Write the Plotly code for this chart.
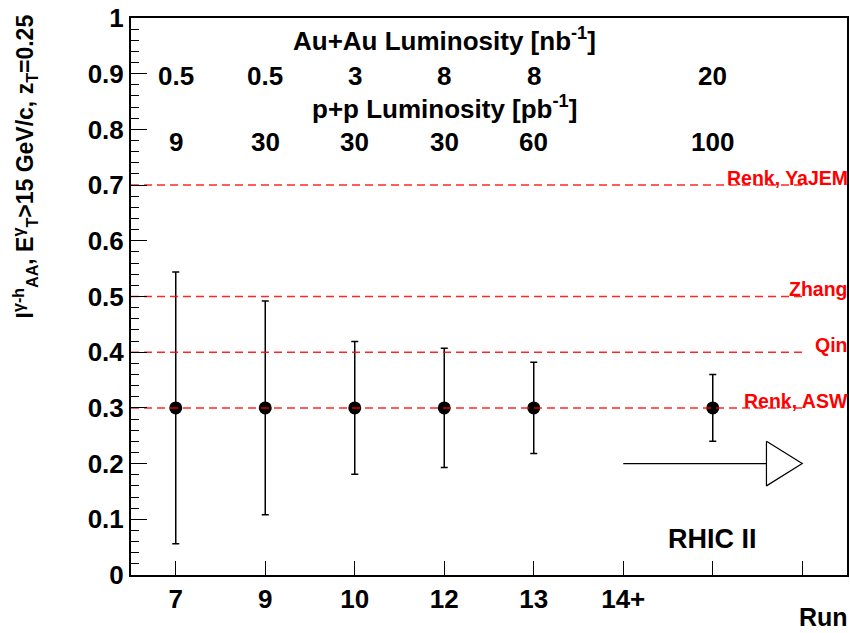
import plotly.graph_objects as go

# ---- data ----
run_labels = ["7", "9", "10", "12", "13", "14+", "", ""]
bin_pos = [1, 2, 3, 4, 5, 6, 7, 8]
point_bins = [1, 2, 3, 4, 5, 7]
iaa_values = [0.3, 0.3, 0.3, 0.3, 0.3, 0.3]
iaa_errors = [0.244, 0.192, 0.119, 0.107, 0.082, 0.060]

auau_lumi = ["0.5", "0.5", "3", "8", "8", "20"]
pp_lumi = ["9", "30", "30", "30", "60", "100"]

theory_names = ["Renk, YaJEM", "Zhang", "Qin", "Renk, ASW"]
theory_values = [0.7, 0.5, 0.4, 0.3]

arrow_from_bin = 6
arrow_head_bin = 7.6
arrow_to_bin = 8
arrow_level = 0.2
arrow_half_height = 0.04

FONT = "Liberation Sans"

fig = go.Figure()

fig.add_trace(go.Scatter(
    x=point_bins, y=iaa_values, mode="markers",
    marker=dict(color="black", size=13, symbol="circle"),
    error_y=dict(type="data", array=iaa_errors, color="black", thickness=1.5, width=3.5),
    showlegend=False, hoverinfo="skip"))

for v in theory_values:
    fig.add_trace(go.Scatter(
        x=[0.5, 8], y=[v, v], mode="lines",
        line=dict(color="rgba(255,0,0,0.85)", width=1.5, dash="8px,5px"),
        showlegend=False, hoverinfo="skip"))

# arrow
fig.add_trace(go.Scatter(
    x=[arrow_from_bin, arrow_head_bin], y=[arrow_level, arrow_level], mode="lines",
    line=dict(color="black", width=1.2), showlegend=False, hoverinfo="skip"))
fig.add_trace(go.Scatter(
    x=[arrow_head_bin, arrow_to_bin, arrow_head_bin, arrow_head_bin],
    y=[arrow_level + arrow_half_height, arrow_level, arrow_level - arrow_half_height,
       arrow_level + arrow_half_height],
    mode="lines", line=dict(color="black", width=1.2), fill="toself", fillcolor="white",
    showlegend=False, hoverinfo="skip"))

ann = []
bold = dict(family=FONT, size=26, color="black", weight="bold")
ann.append(dict(x=4, y=0.962, xref="x", yref="y", text="Au+Au Luminosity [nb<sup>-1</sup>]",
                showarrow=False, font=bold))
ann.append(dict(x=4, y=0.84, xref="x", yref="y", text="p+p Luminosity [pb<sup>-1</sup>]",
                showarrow=False, font=bold))
for b, a, p in zip(point_bins, auau_lumi, pp_lumi):
    ann.append(dict(x=b, y=0.896, xref="x", yref="y", text=a, showarrow=False, font=bold))
    ann.append(dict(x=b, y=0.777, xref="x", yref="y", text=p, showarrow=False, font=bold))

for n, v in zip(theory_names, theory_values):
    ann.append(dict(x=1.0, y=v + 0.013, xref="paper", yref="y", text=n, xanchor="right",
                    yanchor="middle", xshift=3, showarrow=False,
                    font=dict(family=FONT, size=19.5, color="red", weight="bold")))

ann.append(dict(x=7, y=0.065, xref="x", yref="y", text="RHIC II", showarrow=False,
                font=dict(family=FONT, size=27, color="black", weight="bold")))
ann.append(dict(x=1.0, y=-0.075, xref="paper", yref="paper", text="Run", xanchor="right",
                yanchor="middle", xshift=3, showarrow=False,
                font=dict(family=FONT, size=25, color="black", weight="bold")))
ann.append(dict(x=-0.148, y=1.01, xref="paper", yref="paper",
                text="I<sup>γ-h</sup><sub>AA</sub>, E<sup>γ</sup><sub>T</sub>>15 GeV/c, z<sub>T</sub>=0.25",
                textangle=-90, xanchor="center", yanchor="top", showarrow=False,
                font=dict(family=FONT, size=23, color="black", weight="bold")))

fig.update_layout(
    width=850, height=633,
    margin=dict(l=131, r=1, t=18, b=58),
    paper_bgcolor="white", plot_bgcolor="white",
    annotations=ann,
    xaxis=dict(range=[0.5, 8.5], tickvals=bin_pos, ticktext=run_labels,
               ticks="inside", ticklen=14, tickwidth=1.2, tickcolor="black",
               showline=True, linecolor="black", linewidth=2, mirror=True,
               showgrid=False, zeroline=False,
               tickfont=dict(family=FONT, size=26, color="black", weight="bold")),
    yaxis=dict(range=[0, 1], tickvals=[i / 10 for i in range(11)],
               ticks="inside", ticklen=16, tickwidth=1.2, tickcolor="black",
               minor=dict(dtick=0.02, ticks="inside", ticklen=8, tickcolor="black", tickwidth=1),
               showline=True, linecolor="black", linewidth=2, mirror=True,
               showgrid=False, zeroline=False,
               tickfont=dict(family=FONT, size=26, color="black", weight="bold")),
)

fig.write_html("out.html")
